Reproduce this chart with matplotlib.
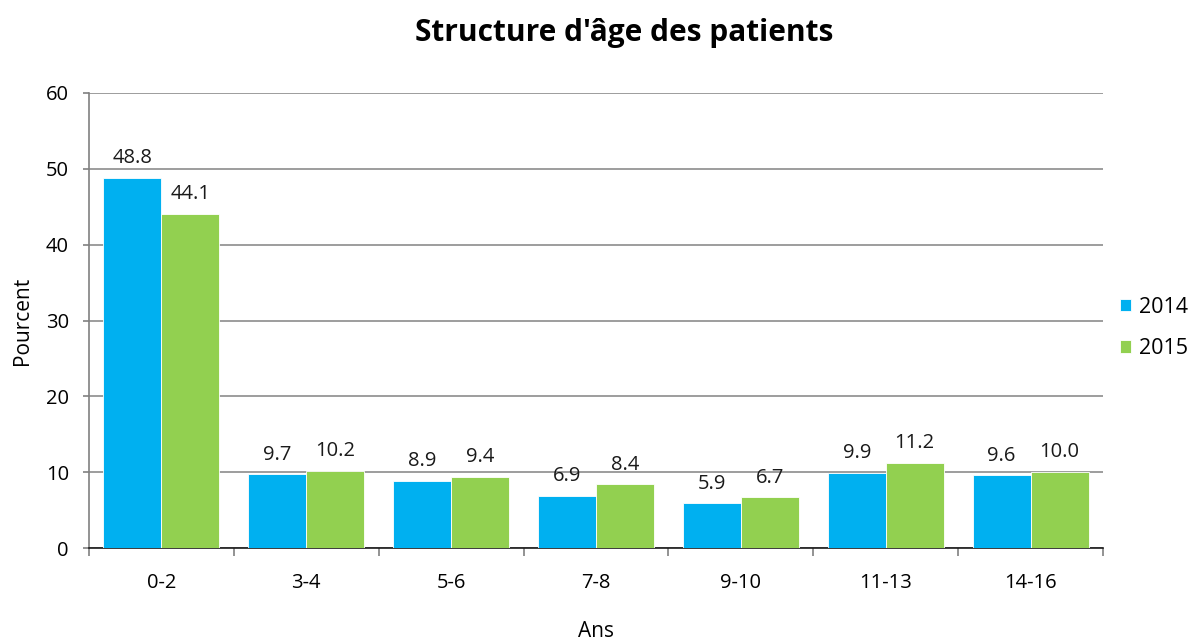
import numpy as np
import matplotlib.pyplot as plt

plt.rcParams['font.family'] = ['Open Sans', 'DejaVu Sans']

categories = ['0-2', '3-4', '5-6', '7-8', '9-10', '11-13', '14-16']
values_2014 = [48.8, 9.7, 8.9, 6.9, 5.9, 9.9, 9.6]
values_2015 = [44.1, 10.2, 9.4, 8.4, 6.7, 11.2, 10.0]

fig = plt.figure(figsize=(11.94, 6.41), dpi=100)
ax = fig.add_axes([0.0745, 0.145, 0.8493, 0.71])

x = np.arange(len(categories))
w = 0.4
b1 = ax.bar(x - w / 2, values_2014, w, color='#00B0F0', edgecolor='white',
            linewidth=0.6, label='2014', zorder=3)
b2 = ax.bar(x + w / 2, values_2015, w, color='#92D050', edgecolor='white',
            linewidth=0.6, label='2015', zorder=3)

for bars, vals in [(b1, values_2014), (b2, values_2015)]:
    for rect, v in zip(bars, vals):
        ax.annotate(f'{v:.1f}', (rect.get_x() + rect.get_width() / 2, v),
                    xytext=(0, 7), textcoords='offset points',
                    ha='center', va='bottom', fontsize=14.5, color='#1a1a1a')

ax.set_xlim(-0.5, len(categories) - 0.5)
ax.set_ylim(0, 60)
ax.set_yticks(range(0, 61, 10))
ax.yaxis.grid(True, color='#8c8c8c', linewidth=1.2, zorder=0)
ax.set_axisbelow(True)

ax.set_xticks(x)
ax.set_xticklabels(categories, fontsize=14.5)
ax.set_xticks(np.arange(-0.5, len(categories), 1), minor=True)
ax.tick_params(axis='x', which='major', length=0, pad=18)
ax.tick_params(axis='x', which='minor', length=6, color='#808080', width=1.2)
ax.tick_params(axis='y', length=4.5, color='#808080', width=1.2,
               labelsize=14.5, pad=10)

for s in ['top', 'right']:
    ax.spines[s].set_visible(False)
ax.spines['left'].set_color('#808080')
ax.spines['left'].set_linewidth(1.2)
ax.spines['bottom'].set_color('#1a1a1a')
ax.spines['bottom'].set_linewidth(1.2)

ax.set_xlabel('Ans', fontsize=15, labelpad=20)
ax.set_ylabel('Pourcent', fontsize=15, labelpad=9)
fig.suptitle("Structure d'âge des patients", fontsize=21.5, fontweight='bold',
             x=0.523, y=0.972)

ax.legend(loc='center left', bbox_to_anchor=(1.0168, 0.4835), frameon=False,
          fontsize=15.5, handlelength=0.5, handleheight=0.5, handletextpad=0.4,
          labelspacing=0.95, borderpad=0, borderaxespad=0)

fig.savefig('out.png', dpi=100)
